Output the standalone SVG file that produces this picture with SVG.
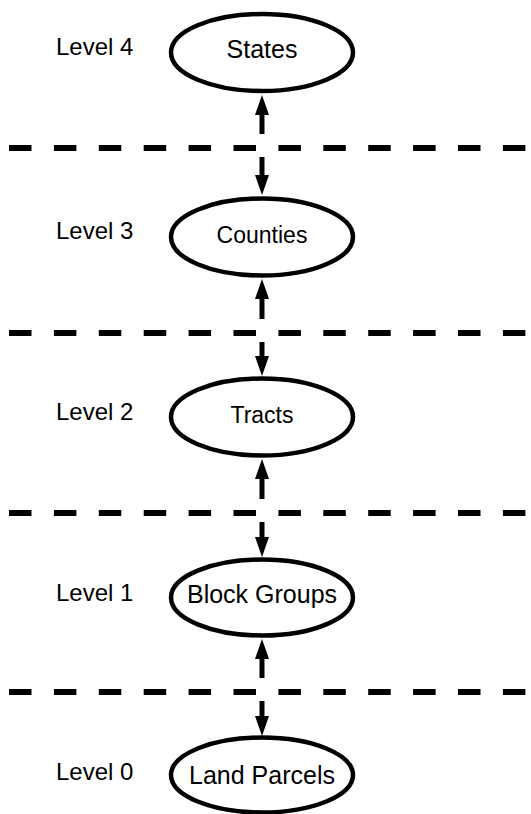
<svg xmlns="http://www.w3.org/2000/svg" width="531" height="814" viewBox="0 0 531 814">
<style>
.node{fill:#fff;stroke:#000;stroke-width:4.5}
.lbl{font-family:"Liberation Sans",Arial,sans-serif;fill:#000;text-anchor:middle}
.lvl{font-family:"Liberation Sans",Arial,sans-serif;font-size:24px;fill:#000}
.sep{stroke:#000;stroke-width:6;stroke-dasharray:22.5 22.4}
.conn{stroke:#000;stroke-width:5;fill:none;marker-end:url(#ah)}
</style>
<defs>
<marker id="ah" markerUnits="userSpaceOnUse" markerWidth="20" markerHeight="14" refX="8" refY="7" orient="auto" overflow="visible">
<path d="M0,0 L20,7 L0,14 z" fill="#000"/>
</marker>
</defs>
<rect width="531" height="814" fill="#fff"/>
<g id="separators">
<line class="sep" x1="9" y1="148" x2="531" y2="148"/>
<line class="sep" x1="9" y1="333" x2="531" y2="333"/>
<line class="sep" x1="9" y1="513" x2="531" y2="513"/>
<line class="sep" x1="9" y1="692" x2="531" y2="692"/>
</g>
<g id="levels">
<text class="lvl" x="56" y="55">Level 4</text>
<text class="lvl" x="56" y="239">Level 3</text>
<text class="lvl" x="56" y="420">Level 2</text>
<text class="lvl" x="56" y="601">Level 1</text>
<text class="lvl" x="56" y="780">Level 0</text>
</g>
<g id="connectors">
<line class="conn" x1="262" y1="134" x2="262" y2="107"/>
<line class="conn" x1="262" y1="157" x2="262" y2="183"/>
<line class="conn" x1="262" y1="319" x2="262" y2="291"/>
<line class="conn" x1="262" y1="342" x2="262" y2="364"/>
<line class="conn" x1="262" y1="499" x2="262" y2="471"/>
<line class="conn" x1="262" y1="522" x2="262" y2="545"/>
<line class="conn" x1="262" y1="678" x2="262" y2="651"/>
<line class="conn" x1="262" y1="701" x2="262" y2="724"/>
</g>
<g id="states">
<ellipse class="node" cx="262" cy="52.5" rx="91" ry="38.5"/>
<text class="lbl" x="262" y="58" font-size="25">States</text>
</g>
<g id="counties">
<ellipse class="node" cx="262" cy="237" rx="91" ry="38.5"/>
<text class="lbl" x="262" y="243" font-size="23">Counties</text>
</g>
<g id="tracts">
<ellipse class="node" cx="262" cy="417" rx="91" ry="38.5"/>
<text class="lbl" x="262" y="423" font-size="23">Tracts</text>
</g>
<g id="block-groups">
<ellipse class="node" cx="262" cy="597.5" rx="91" ry="38"/>
<text class="lbl" x="262" y="603" font-size="25">Block Groups</text>
</g>
<g id="land-parcels">
<ellipse class="node" cx="262" cy="775" rx="91" ry="37.5"/>
<text class="lbl" x="262" y="784" font-size="25">Land Parcels</text>
</g>
</svg>
